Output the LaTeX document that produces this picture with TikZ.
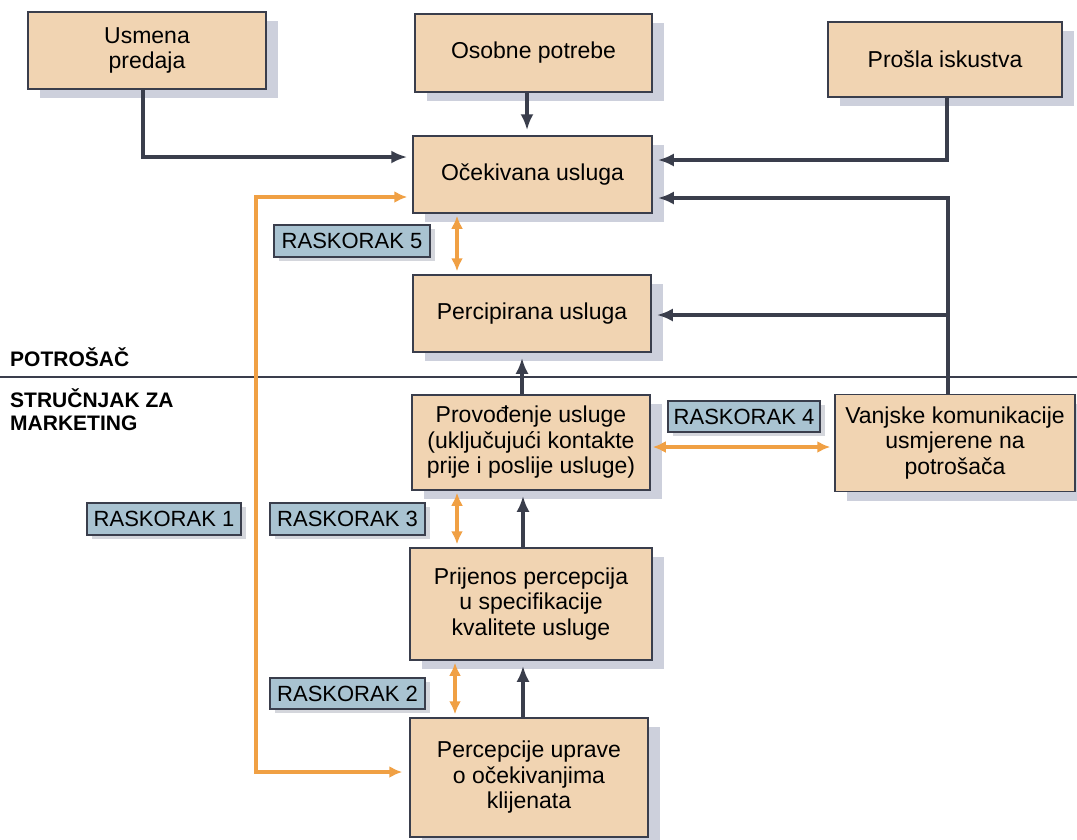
\documentclass[tikz,border=0pt]{standalone}
\usepackage{fontspec}
\setmainfont{Liberation Sans}
\usetikzlibrary{arrows.meta,shadows}
\definecolor{boxfill}{HTML}{F1D4B2}
\definecolor{shadowc}{HTML}{CDD0DC}
\definecolor{lblfill}{HTML}{A9C3D1}
\definecolor{lblshadow}{HTML}{D4D6DC}
\definecolor{linec}{HTML}{3A3E4C}
\definecolor{orangec}{HTML}{F0A044}
\tikzset{
  box/.style={draw=linec, line width=1.5pt, fill=boxfill, align=center,
    font=\fontsize{23}{25.5}\selectfont, inner sep=0pt,
    general shadow={fill=shadowc, shadow xshift=12pt, shadow yshift=-9pt}},
  lbl/.style={draw=linec, line width=1.3pt, fill=lblfill, align=center,
    font=\fontsize{22}{24}\selectfont, inner sep=0pt,
    general shadow={fill=lblshadow, shadow xshift=5pt, shadow yshift=-4pt}},
  darr/.style={draw=linec, line width=3.6pt, -{Latex[length=16pt,width=13pt]}, shorten >=5pt},
  oarr/.style={draw=orangec, line width=3.4pt, {Latex[length=13pt,width=12pt]}-{Latex[length=13pt,width=12pt]}},
  head/.style={font=\bfseries\fontsize{21}{23}\selectfont, align=left, anchor=west, inner sep=0pt}
}
\begin{document}
\begin{tikzpicture}[x=1pt,y=-1pt]
\useasboundingbox (0,0) rectangle (1077,839);
\fill[white] (0,0) rectangle (1077,839);
% separator
\draw[linec, line width=1.2pt] (0,377) -- (1077,377);
% main boxes
\node[box, minimum width=238pt, minimum height=77pt] (usmena) at (147,50.5) {Usmena\\predaja};
\node[box, minimum width=237pt, minimum height=78pt] (osobne) at (533.5,53) {Osobne potrebe};
\node[box, minimum width=234pt, minimum height=75pt] (prosla) at (945,59.5) {Prošla iskustva};
\node[box, minimum width=239pt, minimum height=77pt] (ocek) at (532.5,174.5) {Očekivana usluga};
\node[box, minimum width=238pt, minimum height=77pt] (percip) at (532,313.5) {Percipirana usluga};
\node[box, minimum width=238pt, minimum height=95pt] (provod) at (531,442.5) {Provođenje usluge\\(uključujući kontakte\\prije i poslije usluge)};
\node[box, minimum width=240pt, minimum height=97pt] (vanjske) at (955,443) {Vanjske komunikacije\\usmjerene na\\potrošača};
\node[box, minimum width=242pt, minimum height=112pt] (prijenos) at (531,604) {Prijenos percepcija\\u specifikacije\\kvalitete usluge};
\node[box, minimum width=238pt, minimum height=119pt] (percep) at (529,777.5) {Percepcije uprave\\o očekivanjima\\klijenata};
% gap labels
\node[lbl, minimum width=156pt, minimum height=32pt] (r5) at (352,241) {RASKORAK 5};
\node[lbl, minimum width=152pt, minimum height=31pt] (r4) at (744,416.5) {RASKORAK 4};
\node[lbl, minimum width=155pt, minimum height=32pt] (r3) at (347.5,519) {RASKORAK 3};
\node[lbl, minimum width=155pt, minimum height=31pt] (r2) at (347.5,693.5) {RASKORAK 2};
\node[lbl, minimum width=154pt, minimum height=32pt] (r1) at (164,519) {RASKORAK 1};
% headers
\node[head] (potr) at (10,357) {POTROŠAČ};
\node[head] (strucn) at (10,410) {STRUČNJAK ZA\\MARKETING};
% dark connectors
\coordinate (vtop) at (948,198);
\coordinate (vbr) at (948,315);
\draw[darr] (usmena.south -| 143,0) |- (ocek.west |- 0,157);
\draw[darr] (osobne.south -| 527,0) -- (ocek.north -| 527,0);
\draw[darr] (prosla.south -| 947,0) |- (ocek.east |- 0,160);
\draw[darr] (vanjske.north -| vtop) -- (vtop) -- (ocek.east |- vtop);
\draw[darr] (vbr) -- (percip.east |- vbr);
\draw[darr] (provod.north -| 522,0) -- (percip.south -| 522,0);
\draw[darr] (prijenos.north -| 523,0) -- (provod.south -| 523,0);
\draw[darr] (percep.north -| 523,0) -- (prijenos.south -| 523,0);
% orange gap arrows
\coordinate (o1a) at (256,197);
\coordinate (o1b) at (256,772);
\draw[oarr, shorten <=5pt, shorten >=7pt] (ocek.west |- o1a) -- (o1a) -- (o1b) -- (percep.west |- o1b);
\draw[oarr, shorten <=2pt, shorten >=3pt] (ocek.south -| 457,0) -- (percip.north -| 457,0);
\draw[oarr, shorten <=2pt, shorten >=4pt] (provod.east |- 0,447) -- (vanjske.west |- 0,447);
\draw[oarr, shorten <=2pt, shorten >=3pt] (provod.south -| 457,0) -- (prijenos.north -| 457,0);
\draw[oarr, shorten <=2pt, shorten >=3pt] (prijenos.south -| 455,0) -- (percep.north -| 455,0);
\end{tikzpicture}
\end{document}
